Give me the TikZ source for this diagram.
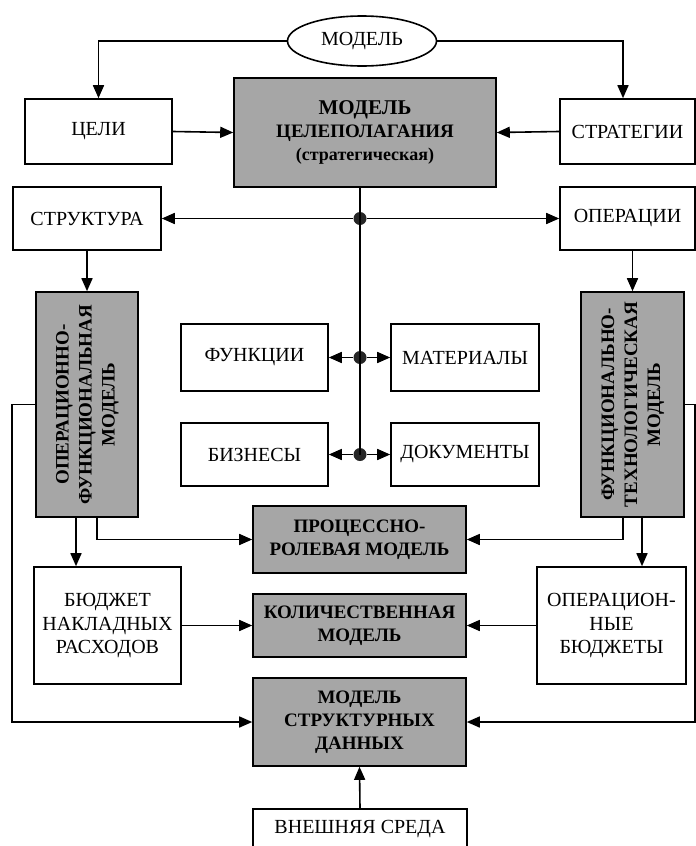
\documentclass[tikz,border=0pt]{standalone}
\usepackage{fontspec}
\setmainfont{Liberation Serif}
\usepackage{graphicx}
\usetikzlibrary{arrows.meta,shapes.geometric}
\tikzset{
  blk/.style={draw, line width=1.6pt, align=center, inner sep=0pt, font=\fontsize{20}{23.5}\selectfont},
  gblk/.style={blk, fill=black!35, font=\fontsize{19}{23}\selectfont\bfseries},
  lin/.style={line width=1.6pt},
  arr/.style={line width=1.6pt, -{Triangle[length=13pt,width=11pt]}},
  jdot/.style={circle, fill=black!85, inner sep=0pt, minimum size=13pt}
}
\def\wbox(#1,#2,#3,#4,#5,#6){
  \node[blk, minimum width=#4pt, minimum height=#5pt] (#1) at (#2,#3) {#6};
}
\def\gbox(#1,#2,#3,#4,#5,#6){
  \node[gblk, minimum width=#4pt, minimum height=#5pt] (#1) at (#2,#3) {#6};
}
\begin{document}
\begin{tikzpicture}[x=1pt,y=-1pt]
\useasboundingbox (0,0) rectangle (696,846);
\node[draw, ellipse, line width=1.6pt, minimum width=149pt, minimum height=50pt, inner sep=0pt,
      font=\fontsize{20}{23}\selectfont] (model) at (362,41) {МОДЕЛЬ};
\wbox(celi,98.5,131.5,147,65,ЦЕЛИ)
\gbox(cpm,365,132.5,262,109,{\fontsize{21}{25}\selectfont МОДЕЛЬ\\ЦЕЛЕПОЛАГАНИЯ\\\fontsize{18}{23}\selectfont(стратегическая)})
\wbox(strat,627.5,131.5,135,65,СТРАТЕГИИ)
\wbox(struct,87,218.5,148,63,СТРУКТУРА)
\wbox(oper,627.5,218.5,135,63,ОПЕРАЦИИ)
\gbox(opf,87,404.5,102,225,{\rotatebox{90}{\begin{tabular}{@{}c@{}}ОПЕРАЦИОННО-\\ФУНКЦИОНАЛЬНАЯ\\МОДЕЛЬ\end{tabular}}})
\gbox(ftm,632.5,404.5,103,225,{\rotatebox{90}{\begin{tabular}{@{}c@{}}ФУНКЦИОНАЛЬНО-\\ТЕХНОЛОГИЧЕСКАЯ\\МОДЕЛЬ\end{tabular}}})
\wbox(func,254.5,357.5,147,67,ФУНКЦИИ)
\wbox(mat,465,357.5,148,67,МАТЕРИАЛЫ)
\wbox(biz,254.5,454.5,147,63,БИЗНЕСЫ)
\wbox(doc,465,454.5,148,63,ДОКУМЕНТЫ)
\gbox(prm,359.5,539.5,213,67,{ПРОЦЕССНО-\\РОЛЕВАЯ МОДЕЛЬ})
\gbox(km,359.5,625.5,213,63,{КОЛИЧЕСТВЕННАЯ\\МОДЕЛЬ})
\gbox(msd,359.5,722,213,88,{МОДЕЛЬ\\СТРУКТУРНЫХ\\ДАННЫХ})
\wbox(bnr,107.5,625.5,147,117,{БЮДЖЕТ\\НАКЛАДНЫХ\\РАСХОДОВ})
\wbox(ob,611.5,625.5,149,117,{ОПЕРАЦИОН-\\НЫЕ\\БЮДЖЕТЫ})
\wbox(vs,360,828.5,214,39,ВНЕШНЯЯ СРЕДА)
\node[jdot] (j1) at (360,218.5) {};
\node[jdot] (j2) at (360,357.5) {};
\node[jdot] (j3) at (360,454.5) {};
\draw[arr] (model.west) -| (celi.north);
\draw[arr] (model.east) -| ([xshift=-4.5pt]strat.north);
\draw[arr] (celi.east) -- (cpm.west);
\draw[arr] (strat.west) -- (cpm.east);
\draw[lin] (cpm.south -| j1) -- (j3.center);
\draw[arr] (j1) -- (struct.east);
\draw[arr] (j1) -- (oper.west);
\draw[arr] (j2) -- (func.east);
\draw[arr] (j2) -- (mat.west);
\draw[arr] (j3) -- (biz.east);
\draw[arr] (j3) -- (doc.west);
\draw[arr] (struct.south) -- (opf.north);
\draw[arr] (oper.south -| ftm.north) -- (ftm.north);
\draw[arr] ([xshift=-11pt]opf.south) -- ([xshift=-11pt]opf.south |- bnr.north);
\draw[arr] ([xshift=10pt]opf.south) |- (prm.west);
\draw[arr] ([xshift=-9.5pt]ftm.south) |- (prm.east);
\draw[arr] ([xshift=9.5pt]ftm.south) -- ([xshift=9.5pt]ftm.south |- ob.north);
\draw[arr] (bnr.east) -- (km.west);
\draw[arr] (ob.west) -- (km.east);
\draw[arr] (opf.west) -- ++(-23,0) |- (msd.west);
\draw[arr] (ftm.east) -- ++(10,0) |- (msd.east);
\draw[arr] (vs.north) -- (msd.south);
\end{tikzpicture}
\end{document}
